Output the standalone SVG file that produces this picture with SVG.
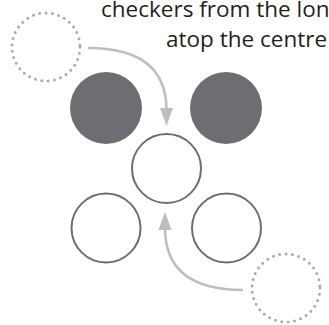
<svg xmlns="http://www.w3.org/2000/svg" width="329" height="325" viewBox="0 0 329 325">
<style>
.txt{font-family:"Open Sans","Noto Sans",sans-serif;font-size:22.5px;fill:#231f20}
.filled{fill:#6d6e71}
.open{fill:#fff;stroke:#6d6e71;stroke-width:2}
.ghost{fill:none;stroke:#a9abae;stroke-width:3;stroke-linecap:round;stroke-dasharray:0 6.4}
.conn{fill:none;stroke:#bcbec0;stroke-width:2.5}
.head{fill:#bcbec0}
</style>
<rect width="329" height="325" fill="#fff"/>
<g id="caption">
<text class="txt" x="101" y="17">checkers from the lon</text>
<text class="txt" x="166" y="47">atop the centre</text>
</g>
<g id="ghost-top"><circle class="ghost" cx="46" cy="47" r="34"/></g>
<g id="dark-left"><circle class="filled" cx="106" cy="108" r="36"/></g>
<g id="dark-right"><circle class="filled" cx="226" cy="108" r="36"/></g>
<g id="centre"><circle class="open" cx="166.5" cy="168.5" r="34.5"/></g>
<g id="light-left"><circle class="open" cx="106" cy="228" r="34.5"/></g>
<g id="light-right"><circle class="open" cx="226.5" cy="228" r="34.5"/></g>
<g id="ghost-bottom"><circle class="ghost" cx="286" cy="288" r="34"/></g>
<g id="connectors">
<path class="conn" d="M88,48 Q166.5,48 166.5,110"/>
<polygon class="head" points="160,108 173,108 166.5,126"/>
<path class="conn" d="M243,290 Q165,290 165,228"/>
<polygon class="head" points="158.5,230 171.5,230 165,212"/>
</g>
</svg>
